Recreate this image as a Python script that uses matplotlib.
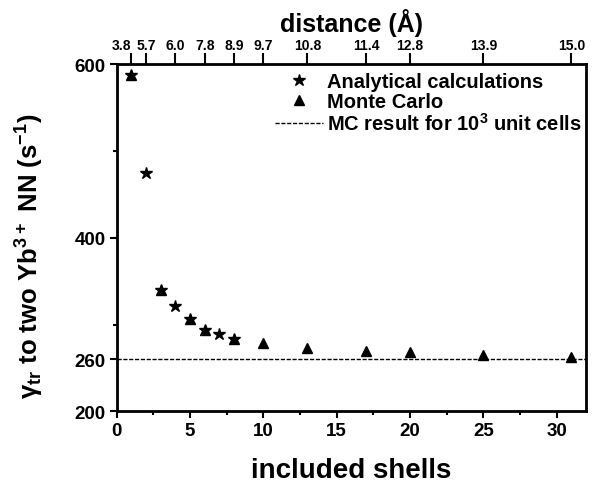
import matplotlib
matplotlib.use("Agg")
import matplotlib.pyplot as plt
from matplotlib.ticker import FixedLocator

plt.rcParams['font.family'] = ['Liberation Sans', 'DejaVu Sans']
plt.rcParams['font.weight'] = 'bold'
plt.rcParams['axes.labelweight'] = 'bold'
plt.rcParams['mathtext.default'] = 'regular'

# analytische Rechnung (Sterne) und Monte Carlo (Dreiecke)
shells_ana = [1, 2, 3, 4, 5, 6, 7, 8]
gamma_ana = [588, 475, 340, 321, 306, 294, 289, 283]
shells_mc = [1, 3, 5, 6, 8, 10, 13, 17, 20, 25, 31]
gamma_mc = [588, 340, 306, 294, 283, 279, 273, 269, 268, 265, 263]
mc_ref = 260

# obere Achse: Abstand in Angström
dist_pos = [1, 2, 4, 6, 8, 10, 13, 17, 20, 25, 31]
dist_labels = ["3.8", "5.7", "6.0", "7.8", "8.9", "9.7", "10.8", "11.4", "12.8", "13.9", "15.0"]

fig = plt.figure(figsize=(6.11, 4.85), dpi=100)
ax = fig.add_axes([0.191, 0.15, 0.768, 0.7154])

ax.plot(shells_ana, gamma_ana, linestyle='none', marker='*', color='black',
        markersize=9, label='Analytical calculations')
ax.plot(shells_mc, gamma_mc, linestyle='none', marker='^', color='black',
        markersize=7.5, label='Monte Carlo')
ax.axhline(mc_ref, color='black', linestyle=(0, (3, 1.2)), linewidth=1,
           label='MC result for 10$^{\\mathregular{3}}$ unit cells')

ax.set_xlim(0, 32)
ax.set_ylim(200, 600)
ax.set_xticks([0, 5, 10, 15, 20, 25, 30])
ax.xaxis.set_minor_locator(FixedLocator([2.5, 7.5, 12.5, 17.5, 22.5, 27.5]))
ax.set_yticks([200, 260, 400, 600])
ax.yaxis.set_minor_locator(FixedLocator([300, 500]))
ax.tick_params(axis='both', which='major', direction='out', length=5, width=1.5,
               labelsize=13.5, pad=3)
ax.tick_params(axis='both', which='minor', direction='out', length=3, width=1.5)
for sp in ax.spines.values():
    sp.set_linewidth(2)

ax.set_xlabel("included shells", fontsize=20, labelpad=13)
ax.set_ylabel("γ$_{\\mathregular{tr}}$ to two Yb$^{\\mathregular{3+}}$ NN (s$^{\\mathregular{-1}}$)",
              fontsize=18.5)
ax.yaxis.set_label_coords(-0.15, 0.45)

top = ax.twiny()
top.set_xlim(ax.get_xlim())
top.set_xticks(dist_pos)
top.set_xticklabels(dist_labels)
top.tick_params(axis='x', direction='out', length=8, width=1.5, labelsize=10, pad=1)
top.get_xticklabels()[0].set_ha('right')
top.set_xlabel("distance (Å)", fontsize=18, labelpad=5)

leg = ax.legend(loc='upper right', frameon=False, fontsize=14.5, handlelength=2.4,
                handletextpad=0.2, labelspacing=0.05, borderaxespad=0.0,
                borderpad=0.2, bbox_to_anchor=(1.0, 0.99))

fig.savefig("out.png", dpi=100)
